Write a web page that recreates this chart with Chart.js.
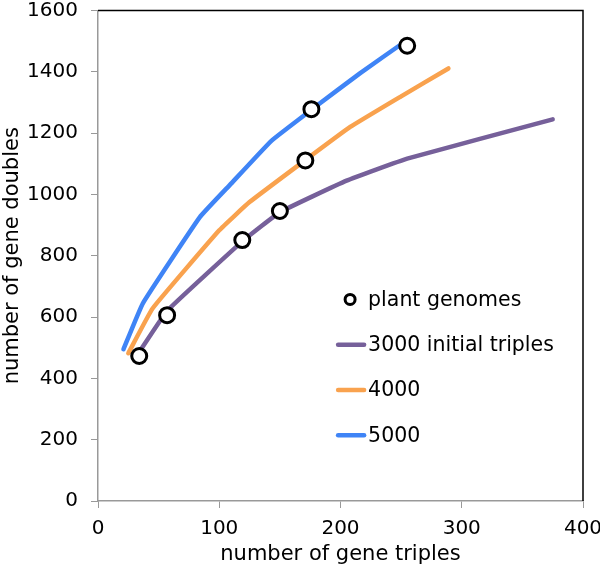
<!DOCTYPE html>
<html>
<head>
<meta charset="utf-8">
<script src="https://cdn.jsdelivr.net/npm/chart.js@4"></script>
<style>
  html, body { margin: 0; padding: 0; background: #fff; }
  #wrap { width: 600px; height: 570px; position: relative; }
</style>
</head>
<body>
<div id="wrap"><canvas id="chart"></canvas></div>
<script>
// simulated curves for different numbers of initial triples
var triples3000 = [33, 57, 120, 150, 205, 255, 375];
var doubles3000 = [480, 620, 850, 942, 1045, 1117, 1245];
var triples4000 = [25, 45, 100, 125, 171, 208, 250, 289];
var doubles4000 = [482, 628, 883, 975, 1112, 1220, 1320, 1411];
var triples5000 = [21, 37, 84, 109, 143, 179, 216, 253];
var doubles5000 = [495, 645, 926, 1032, 1175, 1285, 1395, 1498];
// observed plant genomes
var plantTriples = [34, 57, 119, 150, 171, 176, 255];
var plantDoubles = [473, 606, 851, 946, 1111, 1278, 1485];

var xTicks = [0, 100, 200, 300, 400];
var yTicks = [0, 200, 400, 600, 800, 1000, 1200, 1400, 1600];

function pts(xs, ys) {
    return xs.map(function (x, i) { return { x: x, y: ys[i] }; });
}

var purple = '#76609a';
var orange = '#f9a24e';
var blue = '#3f84f6';
var font = "'DejaVu Sans', Verdana, sans-serif";

var legendItems = [
    { label: 'plant genomes', type: 'circle' },
    { label: '3000 initial triples', color: purple },
    { label: '4000', color: orange },
    { label: '5000', color: blue }
];

// legend drawn inside the plot area, plus black top/right frame
var framePlugin = {
    id: 'frame',
    afterDraw: function (chart) {
        var c = chart.ctx, a = chart.chartArea;
        c.save();
        c.strokeStyle = '#000';
        c.lineWidth = 1.5;
        c.beginPath();
        c.moveTo(a.left, a.top);
        c.lineTo(a.right, a.top);
        c.lineTo(a.right, a.bottom);
        c.stroke();

        var lx = a.left + 0.493 * (a.right - a.left);
        var ly = a.top + 0.589 * (a.bottom - a.top);
        c.font = '20.5px ' + font;
        c.textBaseline = 'middle';
        legendItems.forEach(function (it, i) {
            var y = ly + i * 45.3;
            if (it.type === 'circle') {
                c.beginPath();
                c.arc(lx + 13, y, 5, 0, Math.PI * 2);
                c.fillStyle = '#fff';
                c.fill();
                c.lineWidth = 3;
                c.strokeStyle = '#000';
                c.stroke();
            } else {
                c.beginPath();
                c.moveTo(lx + 1, y);
                c.lineTo(lx + 27, y);
                c.lineWidth = 4.5;
                c.lineCap = 'round';
                c.strokeStyle = it.color;
                c.stroke();
            }
            c.fillStyle = '#000';
            c.fillText(it.label, lx + 31, y + 1);
        });
        c.restore();
    }
};

function lineSet(label, xs, ys, color) {
    return {
        label: label,
        data: pts(xs, ys),
        showLine: true,
        borderColor: color,
        backgroundColor: color,
        borderWidth: 4.5,
        pointRadius: 0,
        tension: 0.1,
        borderCapStyle: 'round',
        borderJoinStyle: 'round'
    };
}

function noPad(axis) {
    axis.paddingTop = 0;
    axis.paddingBottom = 0;
    axis.paddingLeft = 0;
    axis.paddingRight = 0;
}

var ctx = document.getElementById('chart').getContext('2d');
var myChart = new Chart(ctx, {
    type: 'scatter',
    data: {
        datasets: [
            {
                label: 'plant genomes',
                data: pts(plantTriples, plantDoubles),
                pointRadius: 7.5,
                pointBorderWidth: 3,
                pointBackgroundColor: '#fff',
                pointBorderColor: '#000',
                showLine: false,
                order: 0
            },
            lineSet('3000 initial triples', triples3000, doubles3000, purple),
            lineSet('4000', triples4000, doubles4000, orange),
            lineSet('5000', triples5000, doubles5000, blue)
        ]
    },
    options: {
        responsive: true,
        maintainAspectRatio: false,
        animation: false,
        layout: { padding: { top: 7, right: 17, left: 0, bottom: 0 } },
        plugins: {
            legend: { display: false },
            tooltip: { enabled: false }
        },
        scales: {
            x: {
                type: 'linear',
                min: 0,
                max: 400,
                afterBuildTicks: function (axis) {
                    axis.ticks = xTicks.map(function (v) { return { value: v }; });
                },
                afterFit: function (axis) { axis.height = 69; noPad(axis); },
                grid: { drawOnChartArea: false, drawTicks: true, tickLength: 7, color: '#999' },
                border: { color: '#999', width: 1.5 },
                ticks: {
                    color: '#000', font: { family: font, size: 20 }, padding: 9, maxRotation: 0,
                    callback: function (v) { return String(v); }
                },
                title: {
                    display: true,
                    text: 'number of gene triples',
                    color: '#000',
                    font: { family: font, size: 21 },
                    padding: { top: 0, bottom: 3 }
                }
            },
            y: {
                type: 'linear',
                min: 0,
                max: 1600,
                afterBuildTicks: function (axis) {
                    axis.ticks = yTicks.map(function (v) { return { value: v }; });
                },
                afterFit: function (axis) { axis.width = 98; noPad(axis); },
                grid: { drawOnChartArea: false, drawTicks: true, tickLength: 7, color: '#999' },
                border: { color: '#999', width: 1.5 },
                ticks: {
                    color: '#000', font: { family: font, size: 20 }, padding: 13,
                    callback: function (v) { return String(v); }
                },
                title: {
                    display: true,
                    text: 'number of gene doubles',
                    color: '#000',
                    font: { family: font, size: 21 },
                    padding: { top: 0, bottom: 0 }
                }
            }
        }
    },
    plugins: [framePlugin]
});
</script>
</body>
</html>
